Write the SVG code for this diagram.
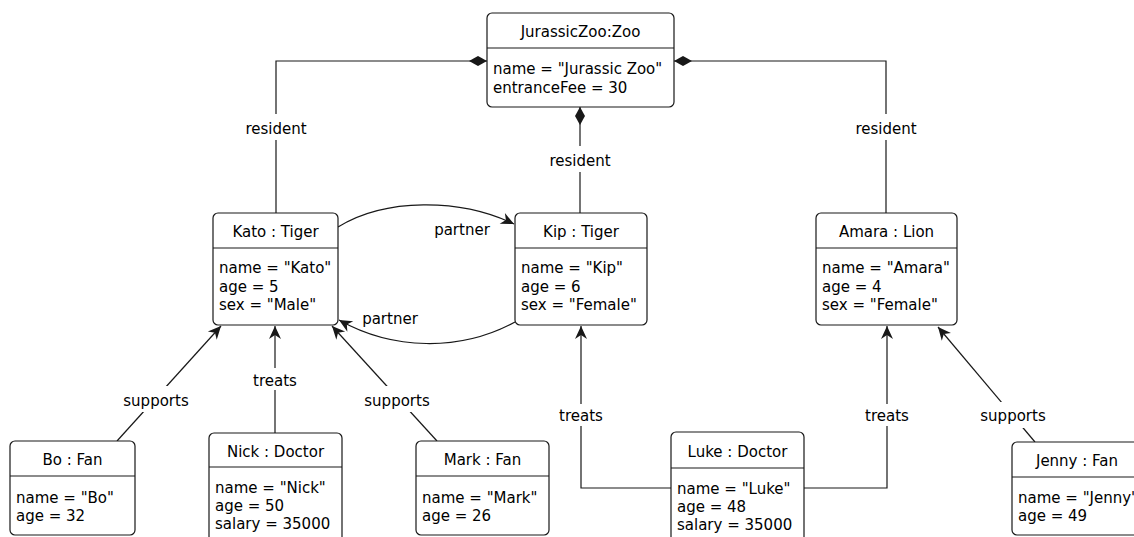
<svg xmlns="http://www.w3.org/2000/svg" width="1134" height="537" viewBox="0 0 1134 537">
<style>
.box{fill:#fff;stroke:#181818;stroke-width:1.2}
.div{stroke:#181818;stroke-width:1.2}
text{font-family:"DejaVu Sans","Liberation Sans",sans-serif;font-size:15px;fill:#000}
.t{text-anchor:middle}
.ln{fill:none;stroke:#181818;stroke-width:1.2}
.lbl{fill:#fff;stroke:none}
</style>
<defs>
<marker id="arr" markerUnits="userSpaceOnUse" markerWidth="15" markerHeight="14" viewBox="-14 -7 15 14" refX="0" refY="0" orient="auto">
<path d="M0,0 L-13,-6 L-9,0 L-13,6 Z" fill="#181818"/>
</marker>
<marker id="dia" markerUnits="userSpaceOnUse" markerWidth="20" markerHeight="12" viewBox="-19 -6 20 12" refX="0" refY="0" orient="auto">
<path d="M0,0 L-9,-5 L-18,0 L-9,5 Z" fill="#181818"/>
</marker>
</defs>
<rect width="1134" height="537" fill="#fff"/>
<g id="connectors">
<path class="ln" d="M276,213 V61 H487" marker-end="url(#dia)"/>
<path class="ln" d="M580,213 V107" marker-end="url(#dia)"/>
<path class="ln" d="M886,213 V61 H674" marker-end="url(#dia)"/>
<path class="ln" d="M338,227 C385,198 460,198 514,224" marker-end="url(#arr)"/>
<path class="ln" d="M515,322 C460,352 392,350 339,320" marker-end="url(#arr)"/>
<path class="ln" d="M117,441 L221,326" marker-end="url(#arr)"/>
<path class="ln" d="M275,433 V326" marker-end="url(#arr)"/>
<path class="ln" d="M437,441 L332,326" marker-end="url(#arr)"/>
<path class="ln" d="M671,488 H581 V326" marker-end="url(#arr)"/>
<path class="ln" d="M804,488 H887 V326" marker-end="url(#arr)"/>
<path class="ln" d="M1035,442 L938,327" marker-end="url(#arr)"/>
<rect class="lbl" x="242" y="114" width="68" height="26"/>
<text class="t" x="276" y="134">resident</text>
<rect class="lbl" x="546" y="146" width="68" height="26"/>
<text class="t" x="580" y="166">resident</text>
<rect class="lbl" x="852" y="114" width="68" height="26"/>
<text class="t" x="886" y="134">resident</text>
<text class="t" x="462" y="235">partner</text>
<text class="t" x="390" y="324">partner</text>
<rect class="lbl" x="118" y="386" width="76" height="26"/>
<text class="t" x="156" y="406">supports</text>
<rect class="lbl" x="250" y="368" width="50" height="22"/>
<text class="t" x="275" y="386">treats</text>
<rect class="lbl" x="359" y="386" width="76" height="26"/>
<text class="t" x="397" y="406">supports</text>
<rect class="lbl" x="556" y="404" width="50" height="22"/>
<text class="t" x="581" y="421">treats</text>
<rect class="lbl" x="862" y="404" width="50" height="22"/>
<text class="t" x="887" y="421">treats</text>
<rect class="lbl" x="975" y="402" width="76" height="26"/>
<text class="t" x="1013" y="421">supports</text>
</g>
<g id="zoo">
<rect class="box" x="487" y="13" width="187" height="94" rx="5"/>
<line class="div" x1="487" y1="48" x2="674" y2="48"/>
<text class="t" x="580.5" y="37">JurassicZoo:Zoo</text>
<text x="493" y="74">name = "Jurassic Zoo"</text>
<text x="493" y="93">entranceFee = 30</text>
</g>
<g id="kato">
<rect class="box" x="213" y="213" width="125" height="112" rx="5"/>
<line class="div" x1="213" y1="248" x2="338" y2="248"/>
<text class="t" x="275.5" y="237">Kato : Tiger</text>
<text x="219" y="273">name = "Kato"</text>
<text x="219" y="292">age = 5</text>
<text x="219" y="310">sex = "Male"</text>
</g>
<g id="kip">
<rect class="box" x="515" y="213" width="132" height="112" rx="5"/>
<line class="div" x1="515" y1="248" x2="647" y2="248"/>
<text class="t" x="581" y="237">Kip : Tiger</text>
<text x="521" y="273">name = "Kip"</text>
<text x="521" y="292">age = 6</text>
<text x="521" y="310">sex = "Female"</text>
</g>
<g id="amara">
<rect class="box" x="816" y="213" width="141" height="112" rx="5"/>
<line class="div" x1="816" y1="248" x2="957" y2="248"/>
<text class="t" x="886.5" y="237">Amara : Lion</text>
<text x="822" y="273">name = "Amara"</text>
<text x="822" y="292">age = 4</text>
<text x="822" y="310">sex = "Female"</text>
</g>
<g id="bo">
<rect class="box" x="10" y="441" width="125" height="94" rx="5"/>
<line class="div" x1="10" y1="476" x2="135" y2="476"/>
<text class="t" x="72.5" y="465">Bo : Fan</text>
<text x="16" y="503">name = "Bo"</text>
<text x="16" y="521">age = 32</text>
</g>
<g id="nick">
<rect class="box" x="209" y="433" width="133" height="120" rx="5"/>
<line class="div" x1="209" y1="467" x2="342" y2="467"/>
<text class="t" x="275.5" y="457">Nick : Doctor</text>
<text x="215" y="493">name = "Nick"</text>
<text x="215" y="511">age = 50</text>
<text x="215" y="529">salary = 35000</text>
</g>
<g id="mark">
<rect class="box" x="416" y="441" width="133" height="94" rx="5"/>
<line class="div" x1="416" y1="476" x2="549" y2="476"/>
<text class="t" x="482.5" y="465">Mark : Fan</text>
<text x="422" y="503">name = "Mark"</text>
<text x="422" y="521">age = 26</text>
</g>
<g id="luke">
<rect class="box" x="671" y="432" width="133" height="120" rx="5"/>
<line class="div" x1="671" y1="468" x2="804" y2="468"/>
<text class="t" x="737.5" y="457">Luke : Doctor</text>
<text x="677" y="494">name = "Luke"</text>
<text x="677" y="512">age = 48</text>
<text x="677" y="530">salary = 35000</text>
</g>
<g id="jenny">
<rect class="box" x="1012" y="442" width="132" height="93" rx="5"/>
<line class="div" x1="1012" y1="477" x2="1144" y2="477"/>
<text class="t" x="1077" y="466">Jenny : Fan</text>
<text x="1018" y="503">name = "Jenny"</text>
<text x="1018" y="521">age = 49</text>
</g>
</svg>
